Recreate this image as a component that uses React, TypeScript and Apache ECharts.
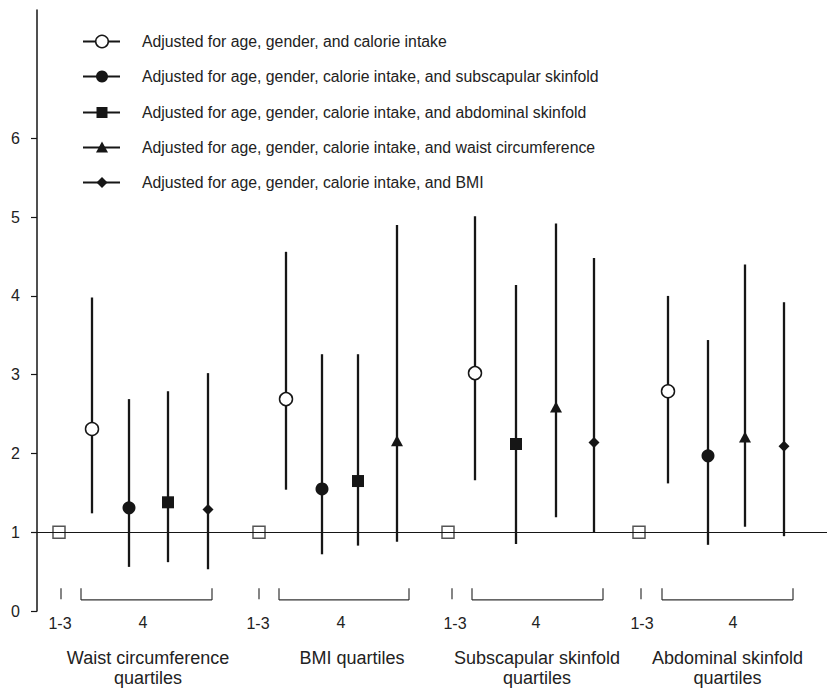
import React, { useEffect, useRef } from "react";
import * as echarts from "echarts";

// ---------- data ----------
const groupNames = [
  "Waist circumference\nquartiles",
  "BMI quartiles",
  "Subscapular skinfold\nquartiles",
  "Abdominal skinfold\nquartiles",
];
const refLabel = "1-3";
const q4Label = "4";
const legendNames = [
  "Adjusted for age, gender, and calorie intake",
  "Adjusted for age, gender, calorie intake, and subscapular skinfold",
  "Adjusted for age, gender, calorie intake, and abdominal skinfold",
  "Adjusted for age, gender, calorie intake, and waist circumference",
  "Adjusted for age, gender, calorie intake, and BMI",
];
const yTicks = [0, 1, 2, 3, 4, 5, 6];

// reference category (quartiles 1-3), value 1
const refX = [2.2, 22.2, 41.1, 60.2];
const refY = [1, 1, 1, 1];

// open circle: age, gender, calorie intake (all four groups)
const openX = [5.5, 24.9, 43.8, 63.1];
const openEst = [2.31, 2.69, 3.02, 2.79];
const openLo = [1.24, 1.54, 1.66, 1.62];
const openHi = [3.98, 4.56, 5.01, 4.0];

// filled circle: + subscapular skinfold (waist, BMI, abdominal)
const filledX = [9.2, 28.5, 67.1];
const filledEst = [1.31, 1.55, 1.97];
const filledLo = [0.56, 0.72, 0.84];
const filledHi = [2.69, 3.26, 3.44];

// square: + abdominal skinfold (waist, BMI, subscapular)
const squareX = [13.1, 32.1, 47.9];
const squareEst = [1.38, 1.65, 2.12];
const squareLo = [0.62, 0.83, 0.85];
const squareHi = [2.79, 3.26, 4.14];

// triangle: + waist circumference (BMI, subscapular, abdominal)
const triX = [36.0, 51.9, 70.8];
const triEst = [2.16, 2.59, 2.21];
const triLo = [0.88, 1.19, 1.07];
const triHi = [4.9, 4.92, 4.4];

// diamond: + BMI (waist, subscapular, abdominal)
const diaX = [17.1, 55.7, 74.7];
const diaEst = [1.29, 2.14, 2.09];
const diaLo = [0.53, 1.0, 0.95];
const diaHi = [3.02, 4.48, 3.92];

// bottom brackets (x positions)
const bracketStart = [4.4, 24.2, 43.5, 62.5];
const bracketEnd = [17.5, 37.2, 56.6, 75.6];
const refTickX = [2.4, 22.2, 41.5, 60.4];
const refLabelX = [2.3, 22.1, 41.8, 60.5];
const q4LabelX = [10.6, 30.4, 49.9, 69.6];
const groupLabelX = [11.1, 31.5, 50.0, 69.05];

// ---------- style ----------
const FONT = '"Liberation Sans", Arial, Helvetica, sans-serif';
const INK = "#161616";
const TEXT = "#222222";

function seg(p: number[], q: number[], w: number, color = INK) {
  return {
    type: "line",
    shape: { x1: p[0], y1: p[1], x2: q[0], y2: q[1] },
    style: { stroke: color, lineWidth: w },
  };
}

function buildOption() {
  const bars: number[][] = [];
  const pushBars = (xs: number[], lo: number[], hi: number[]) =>
    xs.forEach((x, i) => bars.push([x, lo[i], hi[i]]));
  pushBars(openX, openLo, openHi);
  pushBars(filledX, filledLo, filledHi);
  pushBars(squareX, squareLo, squareHi);
  pushBars(triX, triLo, triHi);
  pushBars(diaX, diaLo, diaHi);

  const pts = (xs: number[], ys: number[]) => xs.map((x, i) => [x, ys[i]]);

  const brY0 = 0.14;
  const brY1 = 0.29;

  const textSeries = (xs: number[], y: number, texts: string[], size: number, lh: number) => ({
    type: "custom",
    clip: false,
    silent: true,
    z: 5,
    data: xs.map((x) => [x, y]),
    renderItem: (params: any, api: any) => {
      const p = api.coord([api.value(0), api.value(1)]);
      return {
        type: "text",
        x: p[0],
        y: p[1],
        style: {
          text: texts[params.dataIndex],
          fill: TEXT,
          fontFamily: FONT,
          fontSize: size,
          lineHeight: lh,
          align: "center",
          verticalAlign: "middle",
        },
      };
    },
  });

  const groupY = groupNames.map((g) => (g.includes("\n") ? -0.72 : -0.6));

  // legend drawn as graphic
  const legendEls: any[] = [];
  legendNames.forEach((name, i) => {
    const y = Math.round(41 + i * 35.3) + 0.5;
    const cx = 102;
    legendEls.push({
      type: "line",
      shape: { x1: 83, y1: y, x2: 120, y2: y },
      style: { stroke: INK, lineWidth: 2 },
    });
    let m: any;
    if (i === 0)
      m = { type: "circle", shape: { cx, cy: y, r: 6.3 }, style: { fill: "#fff", stroke: INK, lineWidth: 1.5 } };
    else if (i === 1) m = { type: "circle", shape: { cx, cy: y, r: 6 }, style: { fill: INK } };
    else if (i === 2) m = { type: "rect", shape: { x: cx - 5.5, y: y - 5.5, width: 11, height: 11 }, style: { fill: INK } };
    else if (i === 3)
      m = {
        type: "polygon",
        shape: { points: [[cx, y - 6], [cx + 6, y + 5], [cx - 6, y + 5]] },
        style: { fill: INK },
      };
    else
      m = {
        type: "polygon",
        shape: { points: [[cx, y - 5.5], [cx + 5.5, y], [cx, y + 5.5], [cx - 5.5, y]] },
        style: { fill: INK },
      };
    legendEls.push(m);
    legendEls.push({
      type: "text",
      x: 142,
      y: y,
      style: {
        text: name,
        fill: TEXT,
        fontFamily: FONT,
        fontSize: 15.8,
        verticalAlign: "middle",
        align: "left",
      },
    });
  });

  return {
    animation: false,
    backgroundColor: "#ffffff",
    grid: { left: 37, right: 0, top: 10, bottom: 78, containLabel: false },
    xAxis: {
      type: "value",
      min: 0,
      max: 79,
      show: false,
    },
    yAxis: {
      type: "value",
      min: 0,
      max: 7.63,
      interval: 1,
      axisLine: { show: true, onZero: false, lineStyle: { color: INK, width: 1.5 } },
      axisTick: { show: true, length: 6, inside: false, customValues: yTicks, lineStyle: { color: INK, width: 1.2 } },
      axisLabel: {
        show: true,
        customValues: yTicks,
        margin: 17,
        color: TEXT,
        fontSize: 16,
        fontFamily: FONT,
      },
      splitLine: { show: false },
    },
    graphic: legendEls,
    series: [
      {
        type: "line",
        data: [],
        silent: true,
        z: 1,
        markLine: {
          silent: true,
          symbol: "none",
          label: { show: false },
          lineStyle: { color: INK, width: 1.2, type: "solid" },
          data: [{ yAxis: 1 }],
        },
      },
      {
        type: "custom",
        silent: true,
        z: 2,
        data: bars,
        renderItem: (params: any, api: any) => {
          const a = api.coord([api.value(0), api.value(1)]);
          const b = api.coord([api.value(0), api.value(2)]);
          return seg(a, b, 2.3);
        },
      },
      {
        name: "ref",
        type: "scatter",
        z: 3,
        symbol: "rect",
        symbolSize: 12,
        itemStyle: { color: "#fff", borderColor: "#555", borderWidth: 1.5, opacity: 1 },
        data: pts(refX, refY),
      },
      {
        name: legendNames[0],
        type: "scatter",
        z: 3,
        symbol: "circle",
        symbolSize: 13,
        itemStyle: { color: "#fff", borderColor: INK, borderWidth: 1.5, opacity: 1 },
        data: pts(openX, openEst),
      },
      {
        name: legendNames[1],
        type: "scatter",
        z: 3,
        symbol: "circle",
        symbolSize: 13,
        itemStyle: { color: INK, opacity: 1 },
        data: pts(filledX, filledEst),
      },
      {
        name: legendNames[2],
        type: "scatter",
        z: 3,
        symbol: "rect",
        symbolSize: 12,
        itemStyle: { color: INK, opacity: 1 },
        data: pts(squareX, squareEst),
      },
      {
        name: legendNames[3],
        type: "scatter",
        z: 3,
        symbol: "triangle",
        symbolSize: [12, 11],
        itemStyle: { color: INK, opacity: 1 },
        data: pts(triX, triEst),
      },
      {
        name: legendNames[4],
        type: "scatter",
        z: 3,
        symbol: "diamond",
        symbolSize: 11,
        itemStyle: { color: INK, opacity: 1 },
        data: pts(diaX, diaEst),
      },
      {
        type: "custom",
        clip: false,
        silent: true,
        z: 4,
        data: bracketStart.map((s, i) => [s, bracketEnd[i], refTickX[i]]),
        renderItem: (params: any, api: any) => {
          const s0 = api.coord([api.value(0), brY0]);
          const s1 = api.coord([api.value(0), brY1]);
          const e0 = api.coord([api.value(1), brY0]);
          const e1 = api.coord([api.value(1), brY1]);
          const t0 = api.coord([api.value(2), brY0 + 0.01]);
          const t1 = api.coord([api.value(2), brY1]);
          const c = "#333";
          return {
            type: "group",
            children: [seg(s1, s0, 1.2, c), seg(s0, e0, 1.2, c), seg(e0, e1, 1.2, c), seg(t0, t1, 1.2, c)],
          };
        },
      },
      textSeries(refLabelX, -0.16, refLabelX.map(() => refLabel), 16, 18),
      textSeries(q4LabelX, -0.14, q4LabelX.map(() => q4Label), 16, 18),
      {
        ...textSeries(groupLabelX, 0, groupNames, 18, 20),
        data: groupLabelX.map((x, i) => [x, groupY[i]]),
      },
    ],
  };
}

export default function App() {
  const ref = useRef<HTMLDivElement>(null);
  useEffect(() => {
    if (!ref.current) return;
    const chart = echarts.init(ref.current, null, { renderer: "svg" });
    chart.setOption(buildOption() as any);
    return () => chart.dispose();
  }, []);
  return (
    <div
      ref={ref}
      style={{ position: "absolute", left: 0, top: 0, width: 827, height: 689, background: "#fff" }}
    />
  );
}
